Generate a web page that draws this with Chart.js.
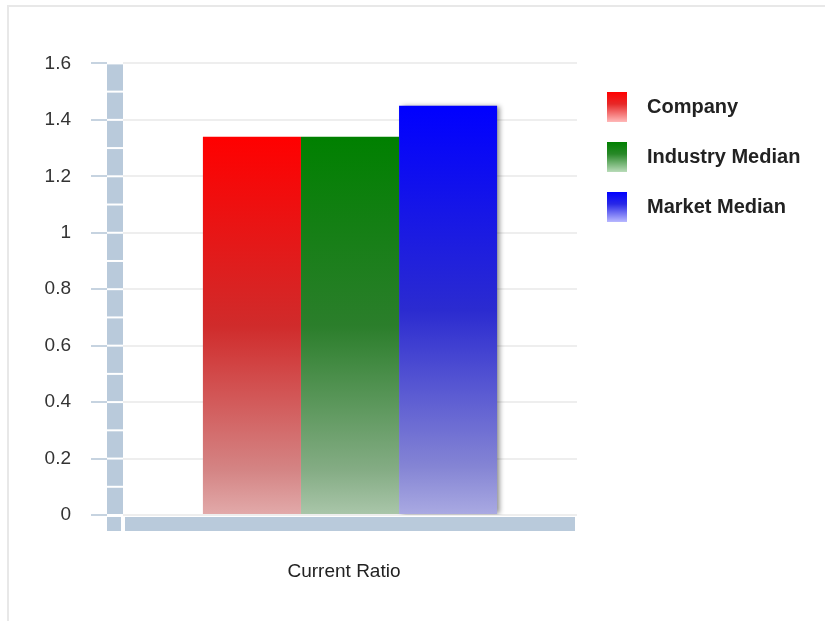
<!DOCTYPE html>
<html lang="en">

<head>
    <meta charset="UTF-8">
    <title>Current Ratio</title>
    <script src="https://cdn.jsdelivr.net/npm/chart.js"></script>
    <style>
        html, body {
            margin: 0;
            padding: 0;
            background: #fff;
        }

        .frame {
            position: absolute;
            left: 7px;
            top: 5px;
            width: 830px;
            height: 630px;
            border-left: 2px solid #e8e8e8;
            border-top: 2px solid #e8e8e8;
        }

        #ratioChart {
            position: absolute;
            left: 0;
            top: 0;
        }
    </style>
</head>

<body>
    <div class="frame"></div>
    <canvas id="ratioChart" width="825" height="621"></canvas>

    <script>
        const categories = ['Current Ratio'];
        const seriesNames = ['Company', 'Industry Median', 'Market Median'];
        const companyValues = [1.34];
        const industryValues = [1.34];
        const marketValues = [1.45];
        const yTicks = [0, 0.2, 0.4, 0.6, 0.8, 1, 1.2, 1.4, 1.6];

        const seriesColors = [[255, 0, 0], [0, 128, 0], [0, 0, 255]];
        const wallColor = '#b9cadb';
        const fontFamily = "'Liberation Sans', Arial, sans-serif";

        // blend a colour toward a grey level
        function mix(c, grey, k) {
            const r = c.map(v => Math.round(v + (grey - v) * k));
            return `rgb(${r[0]},${r[1]},${r[2]})`;
        }

        // vertical shading for each bar, from its top down to zero
        function barFill(context) {
            const chart = context.chart;
            const c = seriesColors[context.datasetIndex];
            if (!chart.chartArea || context.parsed === undefined) return mix(c, 0, 0);
            const y = chart.scales.y;
            const top = y.getPixelForValue(context.parsed.y);
            const base = y.getPixelForValue(0);
            const g = chart.ctx.createLinearGradient(0, top, 0, base);
            g.addColorStop(0, mix(c, 0, 0));
            g.addColorStop(0.5, mix(c, 122, 0.35));
            g.addColorStop(0.88, mix(c, 192, 0.69));
            g.addColorStop(1, mix(c, 218, 0.78));
            return g;
        }

        // the blue-grey wall on the left and the floor under the bars
        const wallPlugin = {
            id: 'wall',
            beforeDatasetsDraw(chart) {
                const { ctx, chartArea } = chart;
                const y = chart.scales.y;
                ctx.save();
                ctx.fillStyle = wallColor;
                const cuts = [];
                for (let i = 0; i < yTicks.length; i++) {
                    cuts.push(yTicks[i]);
                    if (i < yTicks.length - 1) cuts.push((yTicks[i] + yTicks[i + 1]) / 2);
                }
                cuts.sort((a, b) => b - a);
                for (let i = 0; i < cuts.length - 1; i++) {
                    const y0 = y.getPixelForValue(cuts[i]);
                    const y1 = y.getPixelForValue(cuts[i + 1]);
                    ctx.fillRect(chartArea.left - 16, y0 + 1, 16, y1 - y0 - 2);
                }
                const base = y.getPixelForValue(0);
                ctx.fillRect(chartArea.left - 16, base + 2, 14, 14);
                ctx.fillRect(chartArea.left + 2, base + 2, chartArea.right - chartArea.left - 4, 14);

                ctx.strokeStyle = '#c6d3e0';
                ctx.lineWidth = 2;
                yTicks.forEach(v => {
                    const py = Math.round(y.getPixelForValue(v));
                    ctx.beginPath();
                    ctx.moveTo(chartArea.left - 32, py);
                    ctx.lineTo(chartArea.left - 16, py);
                    ctx.stroke();
                });
                ctx.restore();
            }
        };

        // soft shadow to the right of the last bar
        const shadowPlugin = {
            id: 'barShadow',
            beforeDatasetDraw(chart, args) {
                if (args.index !== 2) return;
                const ctx = chart.ctx;
                ctx.save();
                ctx.shadowColor = 'rgba(0,0,0,0.45)';
                ctx.shadowBlur = 5;
                ctx.shadowOffsetX = 3;
                ctx.shadowOffsetY = 0;
            },
            afterDatasetDraw(chart, args) {
                if (args.index !== 2) return;
                chart.ctx.restore();
            }
        };

        // legend on the right with gradient swatches
        const legendPlugin = {
            id: 'sideLegend',
            afterDraw(chart) {
                const ctx = chart.ctx;
                ctx.save();
                chart.data.datasets.forEach((ds, i) => {
                    const c = seriesColors[i];
                    const top = 92 + i * 50;
                    const g = ctx.createLinearGradient(0, top, 0, top + 30);
                    g.addColorStop(0, mix(c, 0, 0));
                    g.addColorStop(0.4, mix(c, 160, 0.25));
                    g.addColorStop(1, mix(c, 255, 0.72));
                    ctx.fillStyle = g;
                    ctx.fillRect(607, top, 20, 30);
                    ctx.fillStyle = '#222';
                    ctx.font = 'bold 20px ' + fontFamily;
                    ctx.textAlign = 'left';
                    ctx.textBaseline = 'middle';
                    ctx.fillText(ds.label, 647, top + 15);
                });
                ctx.restore();
            }
        };

        const ctx = document.getElementById('ratioChart').getContext('2d');
        const ratioChart = new Chart(ctx, {
            type: 'bar',
            data: {
                labels: categories,
                datasets: [
                    { label: seriesNames[0], data: companyValues, backgroundColor: barFill },
                    { label: seriesNames[1], data: industryValues, backgroundColor: barFill },
                    { label: seriesNames[2], data: marketValues, backgroundColor: barFill }
                ]
            },
            options: {
                responsive: false,
                animation: false,
                layout: {
                    padding: { left: 0, top: 63, right: 248, bottom: 0 }
                },
                datasets: {
                    bar: {
                        categoryPercentage: 0.648,
                        barPercentage: 1,
                        borderWidth: 0
                    }
                },
                plugins: {
                    legend: { display: false },
                    tooltip: { enabled: false }
                },
                scales: {
                    x: {
                        grid: { display: false },
                        border: { display: false },
                        afterFit(scale) { scale.height = 106; },
                        ticks: {
                            padding: 37,
                            labelOffset: -6,
                            color: '#222',
                            font: { family: fontFamily, size: 19 }
                        }
                    },
                    y: {
                        min: 0,
                        max: 1.6,
                        afterFit(scale) { scale.width = 123; },
                        afterBuildTicks(scale) {
                            scale.ticks = yTicks.map(v => ({ value: v }));
                        },
                        grid: {
                            color: '#eeeeee',
                            lineWidth: 2,
                            drawTicks: false
                        },
                        border: { display: false },
                        ticks: {
                            padding: 52,
                            color: '#333',
                            font: { family: fontFamily, size: 19 },
                            callback: v => String(v)
                        }
                    }
                }
            },
            plugins: [wallPlugin, shadowPlugin, legendPlugin]
        });
    </script>
</body>

</html>
